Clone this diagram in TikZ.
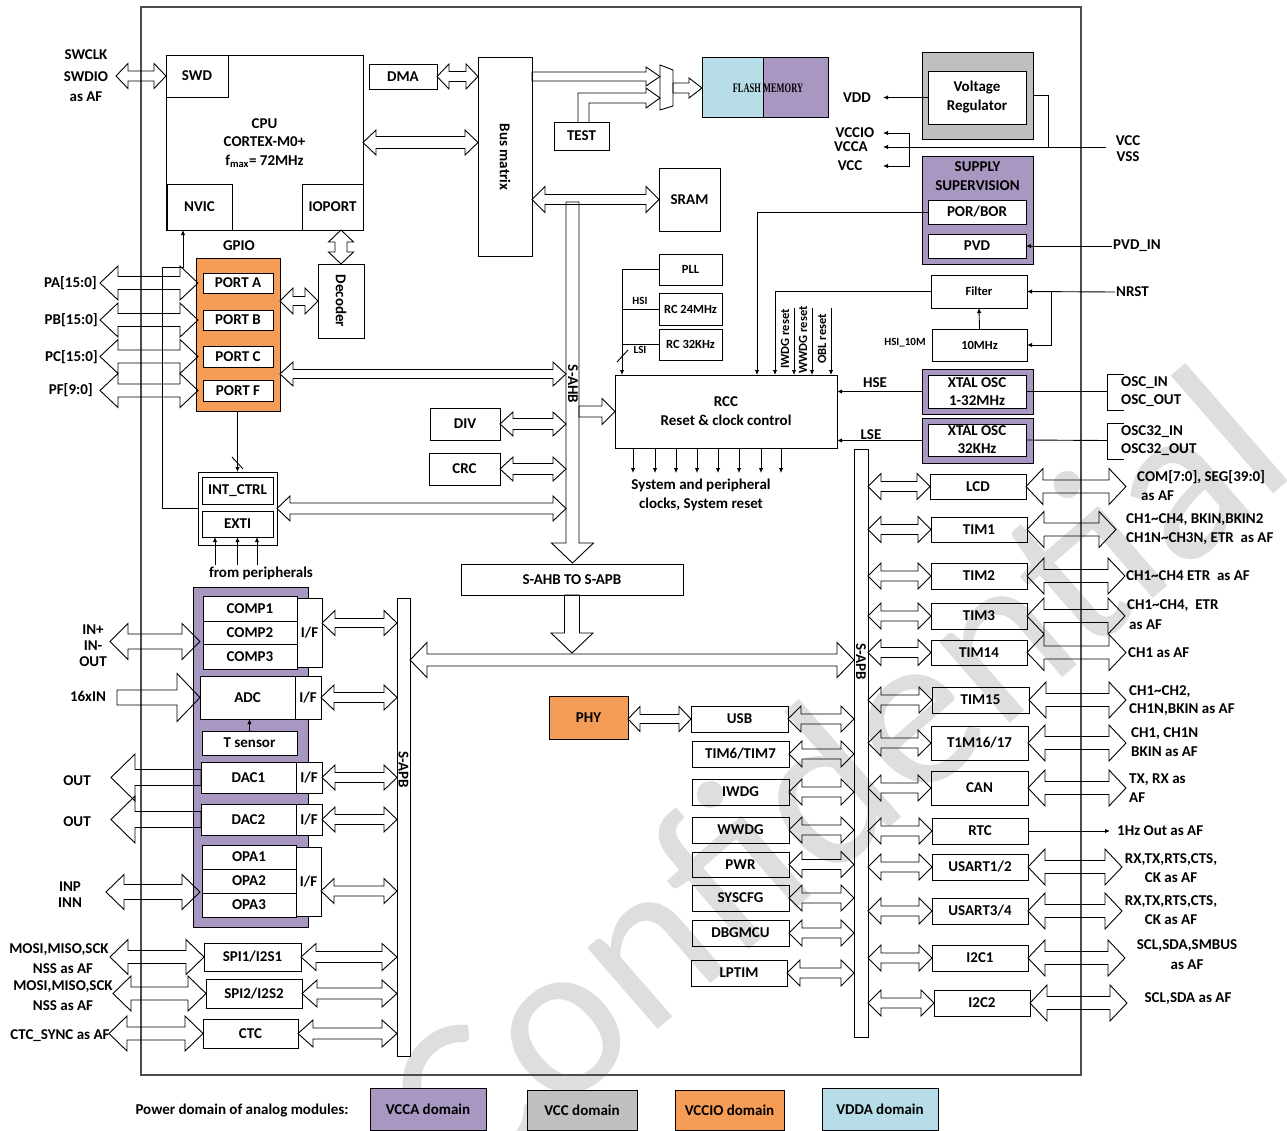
\documentclass[tikz,border=0pt]{standalone}
\usepackage{fontspec}
\setmainfont{Carlito}
\newfontfamily\myflashfont{Liberation Serif}
\usetikzlibrary{arrows.meta,calc}
\definecolor{vcca}{HTML}{A897C1}
\definecolor{vccio}{HTML}{F59D56}
\definecolor{vdda}{HTML}{B7DEE8}
\definecolor{vccg}{HTML}{BFBFBF}
\definecolor{wmk}{HTML}{DEDEDE}
\newcommand\myfA{\bfseries\fontsize{15}{19}\selectfont}
\newcommand\myfB{\bfseries\fontsize{12.5}{15}\selectfont}
\newcommand\myfC{\bfseries\fontsize{11}{13}\selectfont}
\newcommand\BX[7][]{\node[box,#1,minimum width={(#5-#3)*1pt},minimum height={(#6-#4)*1pt}] (#2) at ({(#3+#5)/2},{(#4+#6)/2}) {#7};}
% horizontal double fat arrow: y of #1, x of #1 and #2; hh, sh, hl
\newcommand\HD[5]{\draw[fat] let \p1=#1, \p2=#2, \n1={ifthenelse(\x2>\x1,1,-1)} in
 (\x1,\y1) -- ({\x1+(\n1)*#5pt},{\y1+#3pt}) -- ({\x1+(\n1)*#5pt},{\y1+#4pt})
 -- ({\x2-(\n1)*#5pt},{\y1+#4pt}) -- ({\x2-(\n1)*#5pt},{\y1+#3pt}) -- (\x2,\y1)
 -- ({\x2-(\n1)*#5pt},{\y1-#3pt}) -- ({\x2-(\n1)*#5pt},{\y1-#4pt})
 -- ({\x1+(\n1)*#5pt},{\y1-#4pt}) -- ({\x1+(\n1)*#5pt},{\y1-#3pt}) -- cycle;}
\newcommand\HS[5]{\draw[fat] let \p1=#1, \p2=#2, \n1={ifthenelse(\x2>\x1,1,-1)} in
 (\x1,{\y1+#4pt}) -- ({\x2-(\n1)*#5pt},{\y1+#4pt}) -- ({\x2-(\n1)*#5pt},{\y1+#3pt}) -- (\x2,\y1)
 -- ({\x2-(\n1)*#5pt},{\y1-#3pt}) -- ({\x2-(\n1)*#5pt},{\y1-#4pt}) -- (\x1,{\y1-#4pt}) -- cycle;}
\newcommand\VD[5]{\draw[fat] let \p1=#1, \p2=#2, \n1={ifthenelse(\y2>\y1,1,-1)} in
 (\x1,\y1) -- ({\x1+#3pt},{\y1+(\n1)*#5pt}) -- ({\x1+#4pt},{\y1+(\n1)*#5pt})
 -- ({\x1+#4pt},{\y2-(\n1)*#5pt}) -- ({\x1+#3pt},{\y2-(\n1)*#5pt}) -- (\x1,\y2)
 -- ({\x1-#3pt},{\y2-(\n1)*#5pt}) -- ({\x1-#4pt},{\y2-(\n1)*#5pt})
 -- ({\x1-#4pt},{\y1+(\n1)*#5pt}) -- ({\x1-#3pt},{\y1+(\n1)*#5pt}) -- cycle;}
\newcommand\VS[5]{\draw[fat] let \p1=#1, \p2=#2, \n1={ifthenelse(\y2>\y1,1,-1)} in
 ({\x1+#4pt},\y1) -- ({\x1+#4pt},{\y2-(\n1)*#5pt}) -- ({\x1+#3pt},{\y2-(\n1)*#5pt}) -- (\x1,\y2)
 -- ({\x1-#3pt},{\y2-(\n1)*#5pt}) -- ({\x1-#4pt},{\y2-(\n1)*#5pt}) -- ({\x1-#4pt},\y1) -- cycle;}
% right-column peripheral: name x1 y1 x2 y2 text tipx
\newcommand\RP[7]{\BX{#1}{#2}{#3}{#4}{#5}{#6}\HD{(#1.west)}{(rbus.east)}{13}{5}{13}\HD{(#1.east)}{([xshift={(#7-#4)*1pt}]#1.east)}{18}{6.5}{17}}
% middle-column peripheral
\newcommand\MP[6]{\BX{#1}{#2}{#3}{#4}{#5}{#6}\HD{(#1.east)}{(rbus.west)}{13}{5}{13}}
\begin{document}
\begin{tikzpicture}[x=1pt,y=-1pt,
 box/.style={draw,line width=0.9pt,inner sep=0pt,outer sep=0pt,align=center,font=\myfA},
 lbl/.style={inner sep=1pt,align=center,font=\myfA},
 fat/.style={draw,line width=0.9pt,line join=miter},
 tarr/.style={-{Latex[length=5pt,width=4.5pt]},line width=0.9pt},
 thin/.style={line width=0.9pt}]
\useasboundingbox (0,0) rectangle (1287,1130);
% watermark
\node[rotate=41,text=wmk,font=\fontsize{225}{225}\selectfont] (wm) at (833,775) {Confidential};
% chip frame
\BX[draw=black!70,line width=1.2pt]{chip}{141}{7}{1081}{1075}{}

% ---------- CPU ----------
\BX{cpu}{166}{55}{363}{230}{}
\BX{swd}{166}{55}{228}{97}{SWD}
\BX{nvic}{167}{184}{232}{230}{NVIC}
\BX{ioport}{302}{184}{363}{230}{IOPORT}
\node[lbl,font={\bfseries\fontsize{15}{18.5}\selectfont}] (cput) at (264.5,143) {CPU\\CORTEX-M0+\\f\textsubscript{max}= 72MHz};
\node[lbl] (swclk) at (86,55) {SWCLK};
\node[lbl] (swdio) at (86,77) {SWDIO};
\node[lbl] (swaf) at (86,97) {as AF};
\HD{(swd.west)}{([xshift=-50pt]swd.west)}{12.5}{5}{12}

\BX{dma}{369}{64}{437}{89}{DMA}
\BX{bm}{478}{57}{532}{256}{}
\node[lbl,rotate=-90] (bmt) at (505,157) {Bus matrix};
\HD{(dma.east)}{(bm.west)}{12.5}{5}{12}
\HD{(cpu.east)}{(bm.west)}{12.5}{6}{13}

% mux, flash, test, sram
\draw[thin] (660,65) -- (673,70) -- (673,106) -- (660,110) -- cycle;
\coordinate (muxa) at (660,76.5);
\coordinate (muxo) at (673,88);
\BX[fill=vdda]{flashL}{702}{57}{763}{117}{}
\BX[fill=vcca]{flashR}{763}{57}{828}{117}{}
\node[font=\myflashfont\bfseries\fontsize{13}{15}\selectfont,inner sep=0pt] (flasht) at (768,88) {\scalebox{0.65}[1]{FLASH MEMORY}};
\HS{(bm.east |- muxa)}{(muxa)}{9.5}{4.5}{14}
\HS{(muxo)}{(flashL.west)}{10}{5}{13}
\BX{test}{554}{122}{609}{150}{TEST}
\draw[fat] ([xshift=-3.5pt]test.north) -- ++(0pt,29pt) -- ++(68pt,0pt) -- ++(0pt,5pt) -- ++(14pt,-10pt) -- ++(-14pt,-10pt) -- ++(0pt,5pt) -- ++(-57pt,0pt) -- ++(0pt,-19pt);
\BX{sram}{659}{168}{720}{231}{SRAM}
\HD{(bm.east |- sram.west)}{(sram.west)}{13}{5}{13}

% S-AHB bus
\node[inner sep=0pt,outer sep=0pt,minimum width=13pt,minimum height=341pt] (ahb) at (572.5,372.5) {};
\VS{(ahb.north)}{([yshift=-20pt]ahb.south)}{21}{6.5}{20}
\node[lbl,rotate=-90] (ahbt) at (573,384) {S-AHB};

% ---------- GPIO ----------
\node[lbl] (gpiot) at (239,246) {GPIO};
\BX[fill=vccio]{gpio}{196}{258}{280}{411}{}
\BX[fill=white]{pa}{203}{273}{273}{293}{PORT A}
\BX[fill=white]{pb}{203}{310}{273}{330}{PORT B}
\BX[fill=white]{pc}{203}{346}{273}{367}{PORT C}
\BX[fill=white]{pf}{203}{380}{273}{401}{PORT F}
\HD{([xshift=-5pt]pa.west)}{([xshift=-103pt]pa.west)}{17}{6.5}{18}
\HD{([xshift=-5pt]pb.west)}{([xshift=-103pt]pb.west)}{17}{6.5}{18}
\HD{([xshift=-5pt]pc.west)}{([xshift=-103pt]pc.west)}{17}{6.5}{18}
\HD{([xshift=-5pt]pf.west)}{([xshift=-103pt]pf.west)}{17}{6.5}{18}
\node[lbl,anchor=east] (pat) at (98,283) {PA[15:0]};
\node[lbl,anchor=east] (pbt) at (99,320) {PB[15:0]};
\node[lbl,anchor=east] (pct) at (99,357) {PC[15:0]};
\node[lbl,anchor=east] (pft) at (94,390) {PF[9:0]};
\BX{dec}{318}{264}{364}{338}{}
\node[lbl,rotate=-90] (dect) at (341,301) {Decoder};
\HD{(gpio.east |- dec.west)}{(dec.west)}{13}{4.5}{13}
\VD{(ioport.south -| dec.north)}{(dec.north)}{12.5}{6}{12}
\HD{([yshift=-39.5pt]gpio.east)}{(ahb.west)}{12}{4.5}{13}

\BX{div}{430}{408}{500}{440}{DIV}
\BX{crc}{429}{453}{500}{485}{CRC}
\HD{(div.east)}{(ahb.west)}{12}{5.5}{13}
\HD{(crc.east)}{(ahb.west)}{12}{5.5}{13}

\BX{intbox}{198}{472}{277}{545}{}
\BX{intc}{202}{477}{273}{504}{INT\_CTRL}
\BX{exti}{202}{511}{273}{537}{EXTI}
\HD{(intbox.east)}{(ahb.west)}{12.5}{5.5}{13}
\draw[tarr] (gpio.south -| intbox.north) -- (intbox.north);
\draw[thin] (232,457) -- (243,469);
\draw[tarr] (intbox.west) -| (162,267) -| ([xshift=-16.5pt]nvic.south);
\node[lbl] (fromp) at (261,573) {from peripherals};
\foreach \d in {-22.5,0,19.5} \draw[tarr] ([xshift=\d pt,yshift=-28pt]exti.south) -- ([xshift=\d pt]exti.south);

% ---------- RCC ----------
\BX{rcc}{615}{375}{837}{448}{RCC\\Reset \& clock control}
\HS{(ahb.east |- rcc.west)}{(rcc.west)}{13}{5.5}{13}
\foreach \d in {18,40,61,82,103,124,146,166} \draw[tarr] ([xshift=\d pt]rcc.south west) -- ++(0pt,-25pt);
\node[lbl] (sysclk) at (701,494.5) {System and peripheral\\clocks, System reset};
\BX[font=\myfB]{pll}{659}{254}{722}{285}{PLL}
\BX[font=\myfB]{rc24}{659}{293}{722}{325}{RC 24MHz}
\BX[font=\myfB]{rc32}{659}{329}{722}{360}{RC 32KHz}
\draw[tarr] (pll.west) -| ([xshift=7pt]rcc.north west);
\draw[thin] (rc24.west) -- ++(-37pt,0pt);
\draw[thin] (rc32.west) -- ++(-37pt,0pt);
\node[lbl,font=\myfC] (hsi) at (640,301) {HSI};
\node[lbl,font=\myfC] (lsi) at (640,350) {LSI};
\draw[thin] (617,362) -- (628,350);
\foreach \d in {179,197,216} \draw[tarr] ([xshift=\d pt,yshift=67pt]rcc.north west) -- ([xshift=\d pt]rcc.north west);
\node[lbl,font=\myfB,rotate=90] (iwdgr) at (785,339) {IWDG reset};
\node[lbl,font=\myfB,rotate=90] (wwdgr) at (803,340) {WWDG reset};
\node[lbl,font=\myfB,rotate=90] (oblr) at (822,339) {OBL reset};

% ---------- power ----------
\BX[fill=vccg]{regout}{922}{52}{1033}{139}{}
\BX[fill=white]{reg}{928}{71}{1026}{124}{Voltage\\Regulator}
\node[lbl] (vdd) at (857,97.5) {VDD};
\draw[tarr] (reg.west) -- ([xshift=26pt]vdd.center);
\node[lbl] (vccio) at (855,133) {VCCIO};
\node[lbl] (vcca) at (851,147) {VCCA};
\node[lbl] (vccl) at (850,166) {VCC};
\node[lbl,font={\bfseries\fontsize{15}{16}\selectfont}] (vccvss) at (1128,149) {VCC\\VSS};
\coordinate (vccsrc) at (1106,147);
\coordinate (vj) at (909,147);
\draw[thin] (regout.east) -| (1048,147);
\draw[tarr] (vccsrc) -- ([xshift=32pt]vcca.center);
\draw[tarr] (vj) |- ([xshift=28pt]vccio.center);
\draw[tarr] (vj) |- ([xshift=33pt]vccl.center);

\BX[fill=vcca]{sup}{922}{156}{1033}{264}{}
\node[lbl] (supt) at (977.5,176.5) {SUPPLY\\SUPERVISION};
\BX[fill=white]{por}{928}{200}{1026}{224}{POR/BOR}
\BX[fill=white]{pvd}{928}{234}{1026}{258}{PVD}
\node[lbl,anchor=west] (pvdin) at (1112,246) {PVD\_IN};
\draw[tarr] (pvdin.west) -- (pvd.east);
\draw[tarr] (por.west) -| ([xshift=142pt]rcc.north west);

\BX[font=\myfB]{filter}{931}{275}{1027}{308}{Filter}
\BX[font=\myfB]{tenm}{932}{329}{1027}{361}{10MHz}
\draw[tarr] (tenm.north) -- (filter.south);
\node[lbl,font=\myfC] (hsi10) at (905,343) {HSI\_10M};
\node[lbl,anchor=west] (nrst) at (1115,292) {NRST};
\draw[tarr] (nrst.west) -- (filter.east);
\draw[tarr] ([xshift=24pt]filter.east) |- (tenm.east);
\draw[tarr] (filter.west) -| ([xshift=160pt]rcc.north west);

\BX[fill=vcca]{xo1}{922}{369}{1033}{414}{}
\BX[fill=white]{x1}{928}{375}{1026}{408}{}
\node[lbl,font={\bfseries\fontsize{15}{18}\selectfont}] (x1t) at (977,392) {XTAL OSC\\1-32MHz};
\draw[tarr] (xo1.west) -- (rcc.east |- xo1.west);
\node[lbl] (hse) at (875,383) {HSE};
\draw[thin] (x1.east) -- (1107,391.5);
\draw[thin] (1124,374) -| (1107,410) -- (1124,410);
\node[lbl,anchor=west] (oscin) at (1120,383) {OSC\_IN};
\node[lbl,anchor=west] (oscout) at (1120,401) {OSC\_OUT};
\BX[fill=vcca]{xo2}{922}{418}{1033}{463}{}
\BX[fill=white]{x2}{928}{424}{1026}{456}{}
\node[lbl,font={\bfseries\fontsize{15}{18}\selectfont}] (x2t) at (977,440) {XTAL OSC\\32KHz};
\draw[tarr] (xo2.west) -- (rcc.east |- xo2.west);
\node[lbl] (lse) at (871,435) {LSE};
\draw[thin] (x2.east) -- (1107,440.5);
\draw[thin] (1124,423) -| (1107,459) -- (1124,459);
\node[lbl,anchor=west] (osc32in) at (1120,432) {OSC32\_IN};
\node[lbl,anchor=west] (osc32out) at (1120,450) {OSC32\_OUT};

% ---------- APB buses ----------
\BX{rbus}{854}{449}{868}{1037}{}
\node[lbl,rotate=-90] (rbust) at (861,662) {S-APB};
\BX{lbus}{397}{598}{410}{1056}{}
\node[lbl,rotate=-90,fill=white,inner sep=0.5pt] (lbust) at (403.5,770) {S-APB};
\BX{bridge}{461}{564}{683}{595}{S-AHB TO S-APB}
\VS{(bridge.south)}{([yshift=-58pt]bridge.south)}{21}{7.5}{20}
\coordinate (apby) at (0,660);
\HD{(lbus.east |- apby)}{(rbus.west)}{17.5}{6}{17}

% ---------- right peripherals ----------
\RP{lcd}{930}{474}{1026}{499}{LCD}{1126}
\RP{tim1}{931}{517}{1027}{542}{TIM1}{1116}
\RP{tim2}{931}{563}{1027}{589}{TIM2}{1125}
\RP{tim3}{931}{603}{1027}{629}{TIM3}{1125}
\RP{tim14}{931}{640}{1027}{665}{TIM14}{1126}
\RP{tim15}{932}{687}{1029}{713}{TIM15}{1126}
\RP{tim16}{931}{726}{1028}{760}{T1M16/17}{1126}
\RP{can}{931}{771}{1028}{805}{CAN}{1126}
\BX{rtc}{932}{818}{1028}{844}{RTC}
\HD{(rtc.west)}{(rbus.east)}{13}{5}{13}
\draw[tarr] (rtc.east) -- ([xshift=82pt]rtc.east);
\RP{usart12}{932}{854}{1028}{880}{USART1/2}{1122}
\RP{usart34}{932}{898}{1028}{924}{USART3/4}{1122}
\RP{i2c1}{932}{945}{1028}{971}{I2C1}{1125}
\RP{i2c2}{934}{990}{1030}{1016}{I2C2}{1127}

\node[lbl,anchor=west] (lcdt1) at (1136,477) {COM[7:0], SEG[39:0]};
\node[lbl,anchor=west] (lcdt2) at (1140,496) {as AF};
\node[lbl,anchor=west] (tim1t1) at (1125,520) {CH1\textasciitilde CH4, BKIN,BKIN2};
\node[lbl,anchor=west] (tim1t2) at (1125,539) {CH1N\textasciitilde CH3N, ETR\ \ as AF};
\node[lbl,anchor=west] (tim2t) at (1125,576) {CH1\textasciitilde CH4 ETR\ \ as AF};
\node[lbl,anchor=west] (tim3t1) at (1126,606) {CH1\textasciitilde CH4,\ \ ETR};
\node[lbl,anchor=west] (tim3t2) at (1128,625) {as AF};
\node[lbl,anchor=west] (tim14t) at (1127,653) {CH1 as AF};
\node[lbl,anchor=west] (tim15t1) at (1128,692) {CH1\textasciitilde CH2,};
\node[lbl,anchor=west] (tim15t2) at (1128,710) {CH1N,BKIN as AF};
\node[lbl,anchor=west] (tim16t1) at (1130,734) {CH1, CH1N};
\node[lbl,anchor=west] (tim16t2) at (1130,752) {BKIN as AF};
\node[lbl,anchor=west] (cant1) at (1128,780) {TX, RX as};
\node[lbl,anchor=west] (cant2) at (1128,798) {AF};
\node[lbl,anchor=west] (rtct) at (1116,831) {1Hz Out as AF};
\node[lbl] (u12t1) at (1171,860) {RX,TX,RTS,CTS,};
\node[lbl] (u12t2) at (1171,878) {CK as AF};
\node[lbl] (u34t1) at (1171,902) {RX,TX,RTS,CTS,};
\node[lbl] (u34t2) at (1171,920) {CK as AF};
\node[lbl] (i2c1t1) at (1187,946) {SCL,SDA,SMBUS};
\node[lbl] (i2c1t2) at (1187,965) {as AF};
\node[lbl] (i2c2t) at (1188,999) {SCL,SDA as AF};

% ---------- middle peripherals ----------
\BX[fill=vccio]{phy}{549}{696}{628}{739}{PHY}
\MP{usb}{691}{706}{788}{732}{USB}
\HD{(phy.east |- usb.west)}{(usb.west)}{12.5}{4.5}{12}
\MP{tim67}{692}{741}{789}{767}{TIM6/TIM7}
\MP{iwdg}{692}{779}{789}{805}{IWDG}
\MP{wwdg}{692}{817}{789}{843}{WWDG}
\MP{pwr}{692}{852}{789}{877}{PWR}
\MP{syscfg}{692}{885}{789}{911}{SYSCFG}
\MP{dbgmcu}{692}{920}{789}{946}{DBGMCU}
\MP{lptim}{691}{960}{787}{986}{LPTIM}

% ---------- analog ----------
\BX[fill=vcca]{analog}{193}{587}{308}{927}{}
\BX[fill=white]{comp1}{203}{596}{297}{621}{COMP1}
\BX[fill=white]{comp2}{203}{621}{297}{644}{COMP2}
\BX[fill=white]{comp3}{203}{644}{297}{669}{COMP3}
\BX[fill=white]{compif}{297}{598}{322}{667}{I/F}
\HD{([yshift=9.5pt]compif.east)}{(lbus.west)}{12.5}{4.5}{13}
\HD{([xshift=-3pt,yshift=-9pt]comp2.west)}{([xshift=-93pt]comp2.west)}{18}{7.5}{18}
\node[lbl,font={\bfseries\fontsize{15}{16}\selectfont}] (inlbl) at (93,646) {IN+\\IN-\\OUT};
\BX[fill=white]{adc}{200}{676}{295}{719}{ADC}
\BX[fill=white]{adcif}{295}{676}{321}{719}{I/F}
\HS{([xshift=-83pt]adc.west)}{(adc.west)}{24}{7.5}{23}
\node[lbl] (inadc) at (88,696) {16xIN};
\HD{(adcif.east)}{(lbus.west)}{12.5}{5}{13}
\BX[fill=white]{tsens}{202}{731}{297}{755}{T sensor}
\draw[tarr] (tsens.north) -- (tsens.north |- adc.south);
\BX[fill=white]{dac1}{201}{762}{296}{793}{DAC1}
\BX[fill=white]{dac1if}{296}{762}{322}{793}{I/F}
\BX[fill=white]{dac2}{201}{804}{296}{835}{DAC2}
\BX[fill=white]{dac2if}{296}{804}{322}{835}{I/F}
\HS{(dac1.west)}{([xshift=-90pt]dac1.west)}{23.5}{8}{24}
\HS{(dac2.west)}{([xshift=-90pt]dac2.west)}{23.5}{8}{24}
\node[lbl] (out1) at (77,781) {OUT};
\node[lbl] (out2) at (77,822) {OUT};
\HD{(dac1if.east)}{(lbus.west)}{12.5}{5}{13}
\HD{(dac2if.east)}{(lbus.west)}{12.5}{5}{13}
\BX[fill=white]{opa1}{202}{845}{296}{869}{OPA1}
\BX[fill=white]{opa2}{202}{869}{296}{893}{OPA2}
\BX[fill=white]{opa3}{202}{893}{296}{917}{OPA3}
\BX[fill=white]{opaif}{296}{847}{321}{916}{I/F}
\HD{([yshift=-9.5pt]opaif.east)}{(lbus.west)}{12.5}{5}{13}
\HD{([xshift=-2pt,yshift=-11pt]opa2.west)}{([xshift=-96pt]opa2.west)}{17.5}{7.5}{18}
\node[lbl,font={\bfseries\fontsize{15}{16}\selectfont}] (inplbl) at (70,895) {INP\\INN};

\BX{spi1}{204}{943}{301}{971}{SPI1/I2S1}
\BX{spi2}{206}{979}{302}{1008}{SPI2/I2S2}
\BX{ctc}{203}{1019}{298}{1048}{CTC}
\HD{(spi1.west)}{([xshift=-94pt]spi1.west)}{17.5}{6.5}{18}
\HD{(spi2.west)}{([xshift=-93pt]spi2.west)}{17.5}{6.5}{18}
\HD{(ctc.west)}{([xshift=-94pt]ctc.west)}{17.5}{6.5}{18}
\HD{(spi1.east)}{(lbus.west)}{13.5}{5.5}{15}
\HD{(spi2.east)}{(lbus.west)}{13.5}{5.5}{15}
\HD{(ctc.east)}{(lbus.west)}{13.5}{5.5}{15}
\node[lbl] (spi1t1) at (59,950) {MOSI,MISO,SCK};
\node[lbl] (spi1t2) at (63,969) {NSS as AF};
\node[lbl] (spi2t1) at (63,987) {MOSI,MISO,SCK};
\node[lbl] (spi2t2) at (63,1006) {NSS as AF};
\node[lbl] (ctct) at (60,1036) {CTC\_SYNC as AF};

% ---------- legend ----------
\node[lbl] (legt) at (242,1110) {Power domain of analog modules:};
\BX[fill=vcca]{lgA}{370}{1088}{486}{1130}{VCCA domain}
\BX[fill=vccg]{lgB}{527}{1090}{637}{1130}{VCC domain}
\BX[fill=vccio]{lgC}{675}{1090}{784}{1130}{VCCIO domain}
\BX[fill=vdda]{lgD}{822}{1088}{938}{1130}{VDDA domain}
\end{tikzpicture}
\end{document}
